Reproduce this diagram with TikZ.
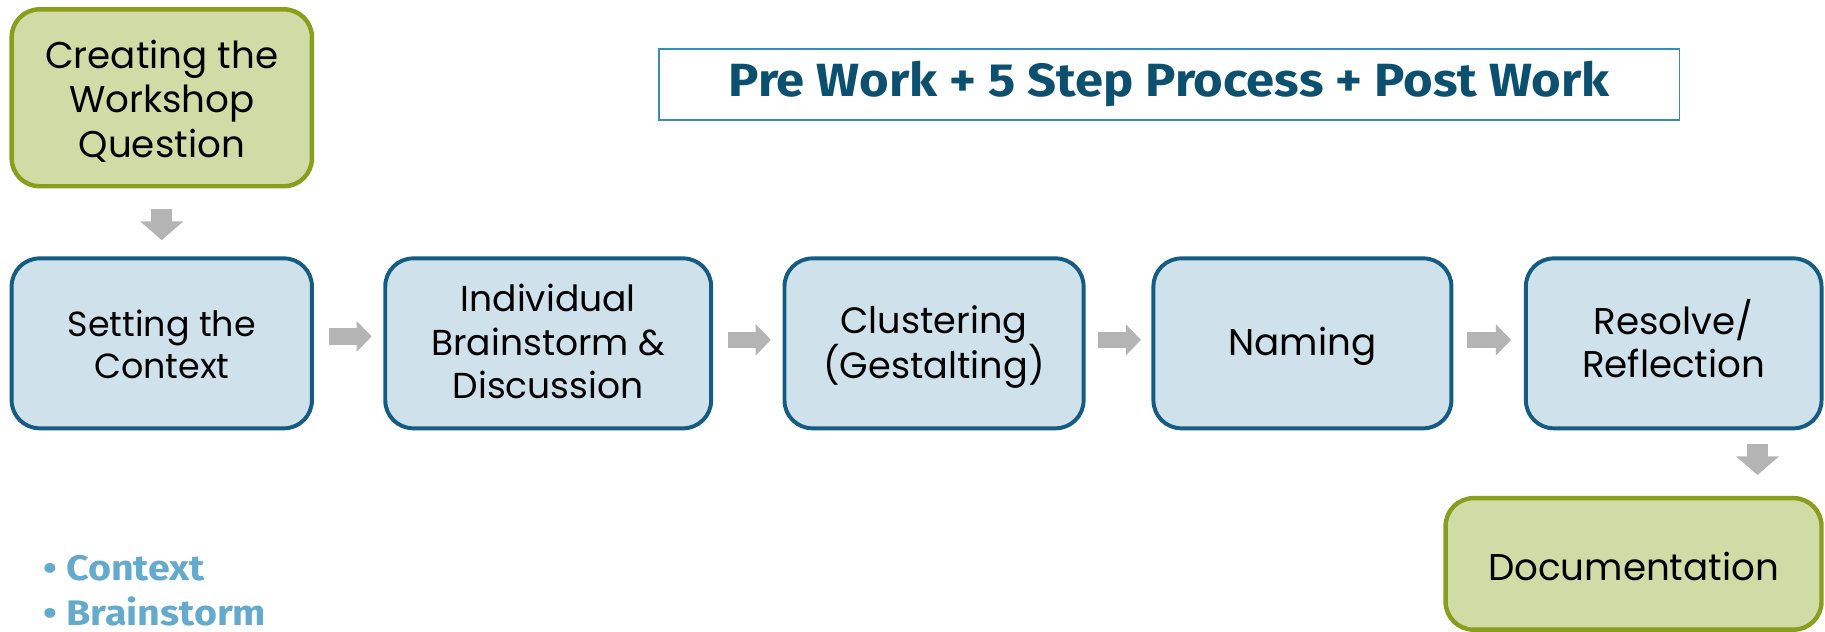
\documentclass[tikz,border=0pt]{standalone}
\usepackage{fontspec}
\setmainfont{Poppins}
\newfontfamily\titlefont{Fira Sans}
\usetikzlibrary{arrows.meta}
\definecolor{bluefill}{RGB}{207,226,236}
\definecolor{blueline}{RGB}{20,92,130}
\definecolor{greenfill}{RGB}{208,219,165}
\definecolor{greenline}{RGB}{138,158,30}
\definecolor{arrowgray}{RGB}{180,180,180}
\definecolor{titleblue}{RGB}{12,80,112}
\definecolor{titleline}{RGB}{58,139,186}
\definecolor{bulletblue}{RGB}{100,170,205}
\begin{document}
\begin{tikzpicture}[x=1pt,y=1pt,
  box/.style={rounded corners=24pt, line width=3.4pt, minimum height=146pt, inner sep=0pt},
  boxtext/.style={align=center, text=black, inner sep=0pt},
  bluebox/.style={box, draw=blueline, fill=bluefill},
  greenbox/.style={box, draw=greenline, fill=greenfill, line width=3.8pt},
  harrow/.style={line width=14pt, draw=arrowgray, -{Triangle[length=13pt,width=26pt]}},
  varrow/.style={line width=18pt, draw=arrowgray, -{Triangle[length=16pt,width=36pt]}},
  bullet/.style={anchor=base west, inner sep=0pt, text=bulletblue, text depth=0pt,
    font=\titlefont\bfseries\fontsize{30.5}{36}\selectfont}]
\useasboundingbox (0,0) rectangle (1568,-543);

\node[greenbox, minimum width=258pt, minimum height=152pt,
  label={[boxtext, yshift=-3pt, font={\fontsize{32}{38}\selectfont}]center:Creating the\\Workshop\\Question}] (q) at (139,-84) {};

\node[draw=titleline, line width=1.6pt, minimum width=877pt, minimum height=61pt, inner sep=0pt,
  text=titleblue, font=\titlefont\bfseries\fontsize{40}{42}\selectfont] (title) at (1004.5,-72.5)
  {\scalebox{1.09}[1]{Pre Work + 5 Step Process + Post Work}};

\node[bluebox, minimum width=258pt,
  label={[boxtext, yshift=-1pt, font={\fontsize{30}{35.5}\selectfont}]center:Setting the\\Context}] (b1) at (139,-295) {};
\node[bluebox, minimum width=280pt,
  label={[boxtext, yshift=1.5pt, font={\fontsize{31}{37.5}\selectfont}]center:Individual\\Brainstorm \&\\Discussion}] (b2) at (471,-295) {};
\node[bluebox, minimum width=257pt,
  label={[boxtext, yshift=-3pt, font={\fontsize{31.5}{37.5}\selectfont}]center:Clustering\\(Gestalting)}] (b3) at (802.5,-295) {};
\node[bluebox, minimum width=256pt,
  label={[boxtext, yshift=-3pt, font={\fontsize{32}{37.5}\selectfont}]center:Naming}] (b4) at (1119,-295) {};
\node[bluebox, minimum width=254pt,
  label={[boxtext, yshift=4pt, font={\fontsize{32}{37.5}\selectfont}]center:Resolve/\\Reflection}] (b5) at (1438,-295) {};

\node[greenbox, minimum width=323pt, minimum height=113pt,
  label={[boxtext, yshift=-2pt, font={\fontsize{32}{37.5}\selectfont}]center:Documentation}] (d) at (1403.5,-484.5) {};

\draw[varrow] ([yshift=-18pt]q.south) -- ([yshift=14pt]b1.north);
\draw[harrow] ([xshift=13pt,yshift=6pt]b1.east) -- ([xshift=-10pt,yshift=6pt]b2.west);
\draw[harrow] ([xshift=13pt,yshift=3pt]b2.east) -- ([xshift=-10pt,yshift=3pt]b3.west);
\draw[harrow] ([xshift=11pt,yshift=3pt]b3.east) -- ([xshift=-9pt,yshift=3pt]b4.west);
\draw[harrow] ([xshift=12pt,yshift=3pt]b4.east) -- ([xshift=-11pt,yshift=3pt]b5.west);
\coordinate (e2) at ([xshift=72pt,yshift=-12pt]b5.south);
\coordinate (e2b) at (e2 |- d.north);
\draw[varrow] (e2) -- ([yshift=18pt]e2b);

\node[bullet] (bl1) at (37,-499) {\scalebox{1.11}[1]{• Context}};
\node[bullet] (bl2) at (37,-537) {\scalebox{1.11}[1]{• Brainstorm}};
\end{tikzpicture}
\end{document}
